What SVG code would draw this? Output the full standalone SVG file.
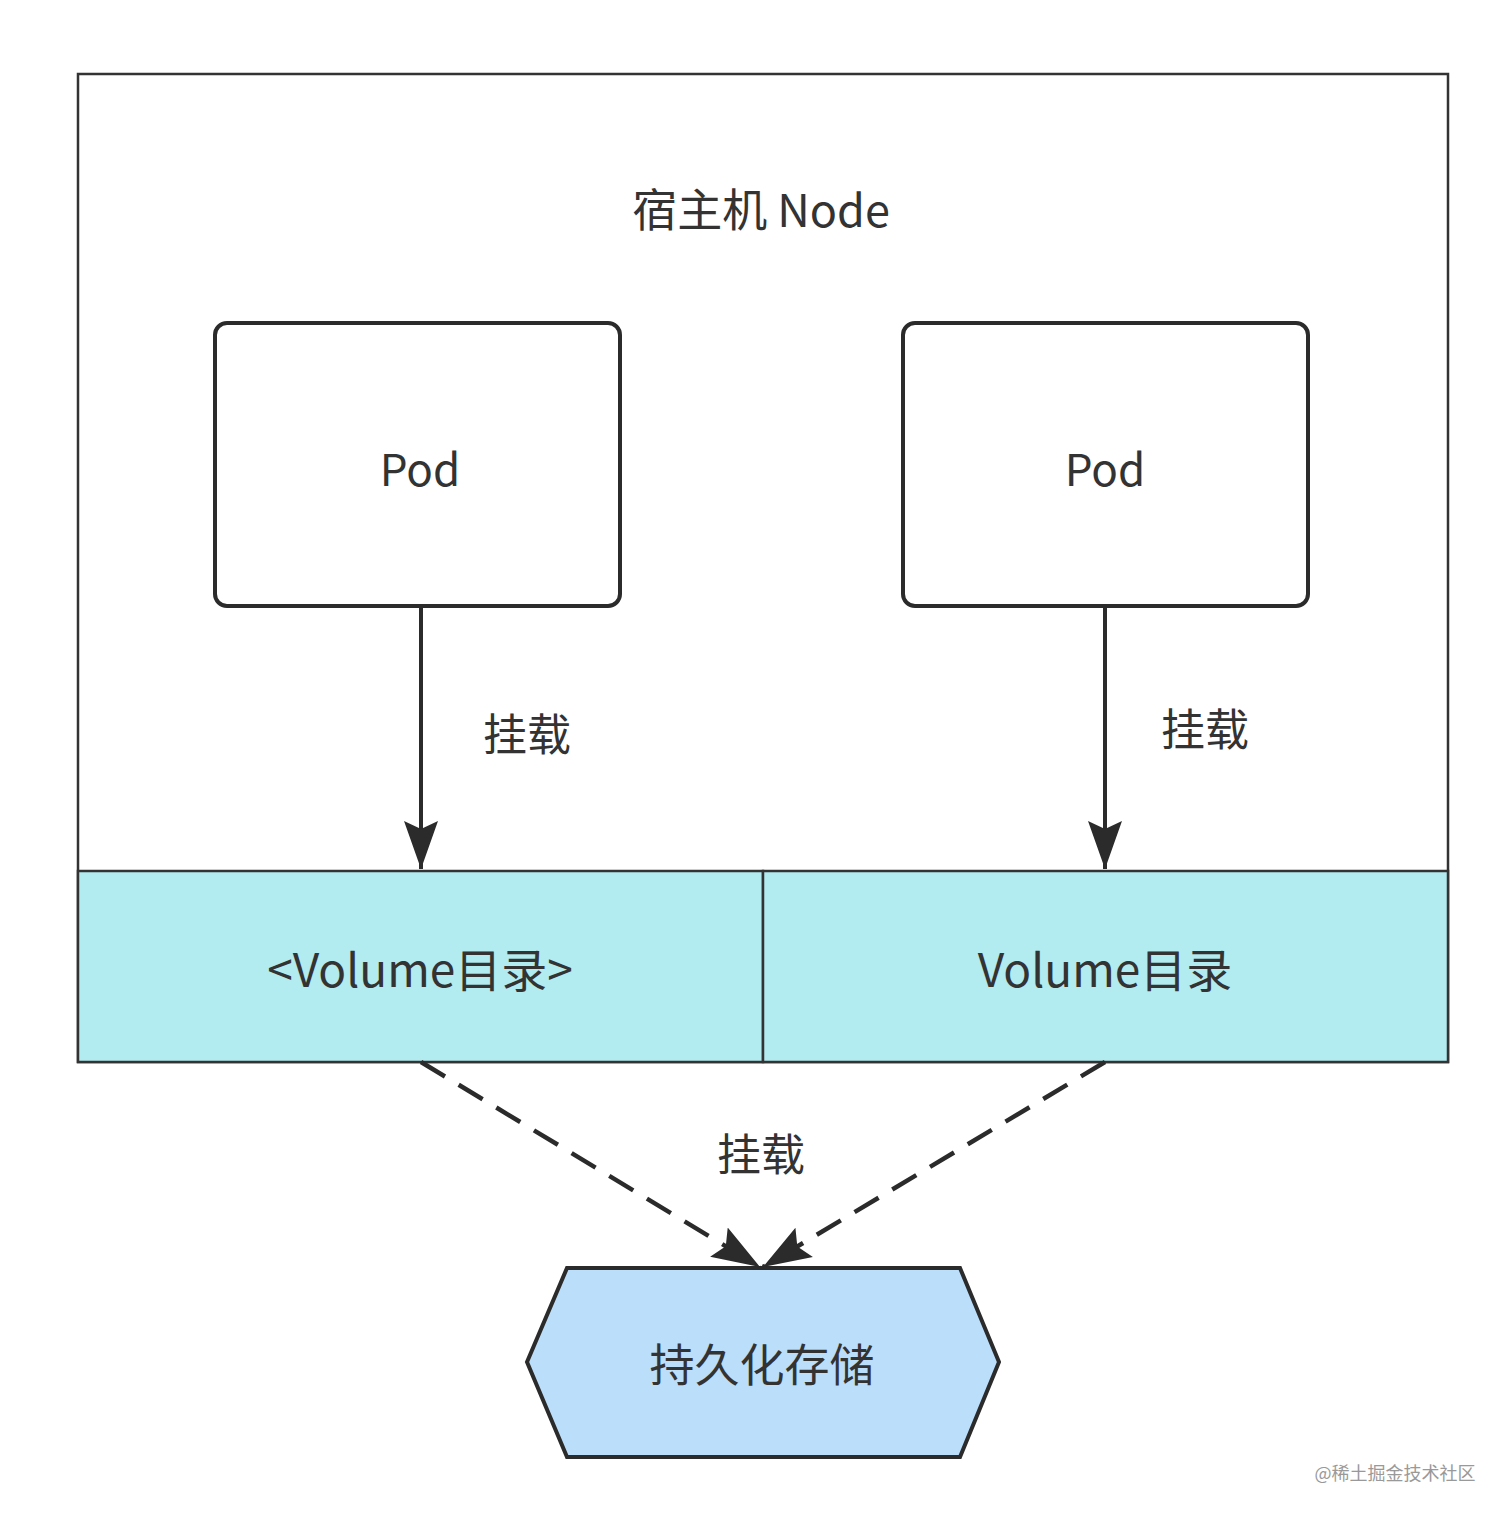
<svg xmlns="http://www.w3.org/2000/svg" width="1512" height="1519" viewBox="0 0 1512 1519">
<style>
.t{font-family:"Noto Sans CJK SC","Noto Sans",sans-serif;fill:#333;text-anchor:middle;dominant-baseline:central}
.pod{fill:#fff;stroke:#2b2b2b;stroke-width:4}
.vol{fill:#b2ebf0;stroke:#333;stroke-width:2.5}
.con{stroke:#2b2b2b;stroke-width:4;fill:none}
.dash{stroke-width:4.5;stroke-dasharray:28 16}
</style>
<defs>
<marker id="ah" markerUnits="userSpaceOnUse" markerWidth="52" markerHeight="40" viewBox="0 0 52 40" refX="48" refY="20" orient="auto">
<path d="M0,3 L48,20 L0,37 L8,20 Z" fill="#2b2b2b"/>
</marker>
</defs>
<rect width="1512" height="1519" fill="#fff"/>
<g id="node-host">
<rect x="78" y="74" width="1370" height="988" fill="#fff" stroke="#333" stroke-width="2.5"/>
<text class="t" x="761" y="207" font-size="45">宿主机 Node</text>
</g>
<g id="pod-left">
<rect class="pod" x="215" y="323" width="405" height="283" rx="12"/>
<text class="t" x="420" y="467" font-size="44">Pod</text>
</g>
<g id="pod-right">
<rect class="pod" x="903" y="323" width="405" height="283" rx="12"/>
<text class="t" x="1105" y="467" font-size="44">Pod</text>
</g>
<g id="volume-left">
<rect class="vol" x="78" y="871" width="685" height="191"/>
<text class="t" x="420" y="967" font-size="46">&lt;Volume目录&gt;</text>
</g>
<g id="volume-right">
<rect class="vol" x="763" y="871" width="685" height="191"/>
<text class="t" x="1105" y="967" font-size="46">Volume目录</text>
</g>
<g id="storage">
<polygon points="527,1362 567,1268 960,1268 999,1362 960,1457 567,1457" fill="#bbdefb" stroke="#2b2b2b" stroke-width="4"/>
<text class="t" x="762" y="1362" font-size="45">持久化存储</text>
</g>
<g id="connectors">
<line class="con" x1="421" y1="606" x2="421" y2="869" marker-end="url(#ah)"/>
<line class="con" x1="1105" y1="606" x2="1105" y2="869" marker-end="url(#ah)"/>
<line class="con dash" x1="421" y1="1062" x2="760" y2="1267" marker-end="url(#ah)"/>
<line class="con dash" x1="1105" y1="1062" x2="763" y2="1267" marker-end="url(#ah)"/>
<text class="t" x="527" y="732" font-size="44">挂载</text>
<text class="t" x="1205" y="727" font-size="44">挂载</text>
<text class="t" x="761" y="1152" font-size="44">挂载</text>
</g>
<text x="1395" y="1472" font-family="Noto Sans CJK SC, sans-serif" font-size="18" fill="#999" text-anchor="middle" dominant-baseline="central">@稀土掘金技术社区</text>
</svg>
